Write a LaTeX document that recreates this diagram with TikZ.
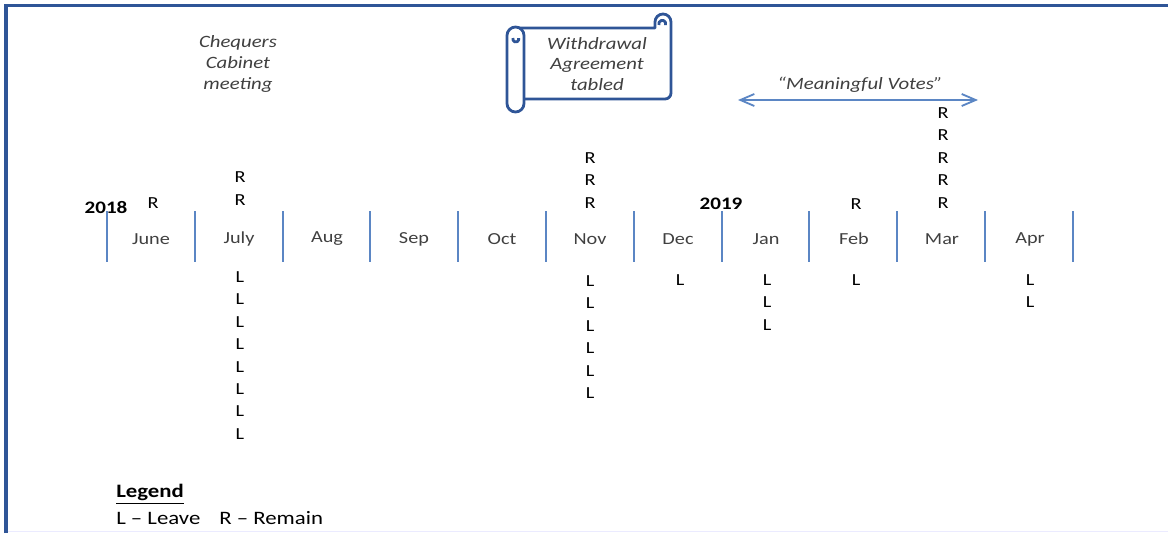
\documentclass[tikz,border=0pt]{standalone}
\usepackage{fontspec}
\setmainfont[FakeStretch=1.2]{Carlito}
\usepackage{xcolor}
\usepackage{tikz}
\usetikzlibrary{positioning, shapes}
\usetikzlibrary{arrows.meta}
\definecolor{frameblue}{RGB}{47,85,151}
\definecolor{tickblue}{RGB}{91,134,196}
\definecolor{textgrey}{RGB}{64,64,64}

\begin{document}
\begin{tikzpicture}[x=0.025cm, y=-0.025cm]
            \tikzset{monthtick/.style = {tickblue, line width=1.5pt}}
            \tikzset{monthlabel/.style = {textgrey, font=\fontsize{12}{14}\selectfont}}
            \tikzset{vote/.style = {inner sep=0pt, font=\fontsize{12}{14}\selectfont}}
            \tikzset{note/.style = {textgrey, align=center, font=\fontsize{12.3}{14.6}\selectfont\itshape}}
            \tikzset{year/.style = {inner sep=0pt, font=\fontsize{12.5}{14}\selectfont\bfseries}}
            \tikzset{scrollline/.style = {frameblue, line width=2pt, line join=round, fill=white}}
            \tikzset{bigedge/.style = {{Straight Barb[length=3.5mm,width=3mm]}-{Straight Barb[length=3.5mm,width=3mm]}, tickblue, line width=1.3pt}}

            \useasboundingbox (0,0) rectangle (1168,533);

            % frame
            \draw[blue!8, line width=0.6pt] (6,531.5) -- (1168,531.5);
            \draw[frameblue, line width=2.6pt] (6,533) -- (6,5.5) -- (1168,5.5);

            % month ticks
            \foreach \i in {0,...,11}
                \draw[monthtick] ({107+87.8*\i},211) -- ({107+87.8*\i},262);

            \node[monthlabel] (june) at (151,239) {June};
            \node[monthlabel] (july) at (239,239) {July};
            \node[monthlabel] (aug)  at (327,239) {Aug};
            \node[monthlabel] (sep)  at (414,239) {Sep};
            \node[monthlabel] (oct)  at (502,239) {Oct};
            \node[monthlabel] (nov)  at (590,239) {Nov};
            \node[monthlabel] (dec)  at (678,239) {Dec};
            \node[monthlabel] (jan)  at (766,239) {Jan};
            \node[monthlabel] (feb)  at (854,239) {Feb};
            \node[monthlabel] (mar)  at (942,239) {Mar};
            \node[monthlabel] (apr)  at (1030,239) {Apr};

            \node[year] (y2018) at (106,207) {2018};
            \node[year] (y2019) at (721,204) {2019};

            % remain votes
            \node[vote] (juneR0) at (153,203) {R};
            \foreach \k in {0,1}
                \node[vote] (julyR\k) at (240,{200-22.5*\k}) {R};
            \foreach \k in {0,...,2}
                \node[vote] (novR\k) at (590,{203-22.5*\k}) {R};
            \node[vote] (febR0) at (856,204) {R};
            \foreach \k in {0,...,4}
                \node[vote] (marR\k) at (943,{203-22.5*\k}) {R};

            % leave votes
            \foreach \k in {0,...,7}
                \node[vote] (julyL\k) at (240,{277+22.4*\k}) {L};
            \foreach \k in {0,...,5}
                \node[vote] (novL\k) at (590,{281+22.4*\k}) {L};
            \node[vote] (decL0) at (680,280) {L};
            \foreach \k in {0,...,2}
                \node[vote] (janL\k) at (767,{280+22.5*\k}) {L};
            \node[vote] (febL0) at (856,280) {L};
            \foreach \k in {0,1}
                \node[vote] (aprL\k) at (1030,{280+22.5*\k}) {L};

            % events
            \node[note] (chequers) at (238,64) {Chequers\\Cabinet\\meeting};

            \draw[scrollline] (514,28) -- (655,28) -- (655,22) arc[start angle=180, end angle=360, radius=8]
                -- (671,93) arc[start angle=0, end angle=90, radius=6] -- (514,99) -- cycle;
            \draw[scrollline, fill=none] (659,25) arc[start angle=160, end angle=380, radius=3.5];
            \draw[scrollline] (507,35.5) arc[start angle=180, end angle=360, radius=8.5]
                -- (524,103.5) arc[start angle=0, end angle=180, radius=8.5] -- cycle;
            \draw[scrollline, fill=none] (513,38) arc[start angle=200, end angle=-20, radius=3];
            \node[note] (withdrawal) at (597,64) {Withdrawal\\Agreement\\tabled};

            \coordinate (mvstart) at (738,100);
            \coordinate (mvend) at (978,100);
            \draw[bigedge] (mvstart) -- (mvend);
            \node[note] (meaningful) at (860,85) {``Meaningful Votes''};

            % legend
            \node[anchor=west, inner sep=0pt, font=\fontsize{13.5}{15}\selectfont\bfseries] (legendtitle) at (116,494) {\underline{Legend}};
            \node[anchor=west, inner sep=0pt, font=\fontsize{13.5}{15}\selectfont] (legendkey) at (116,518) {L -- Leave\quad R -- Remain};

\end{tikzpicture}
\end{document}
